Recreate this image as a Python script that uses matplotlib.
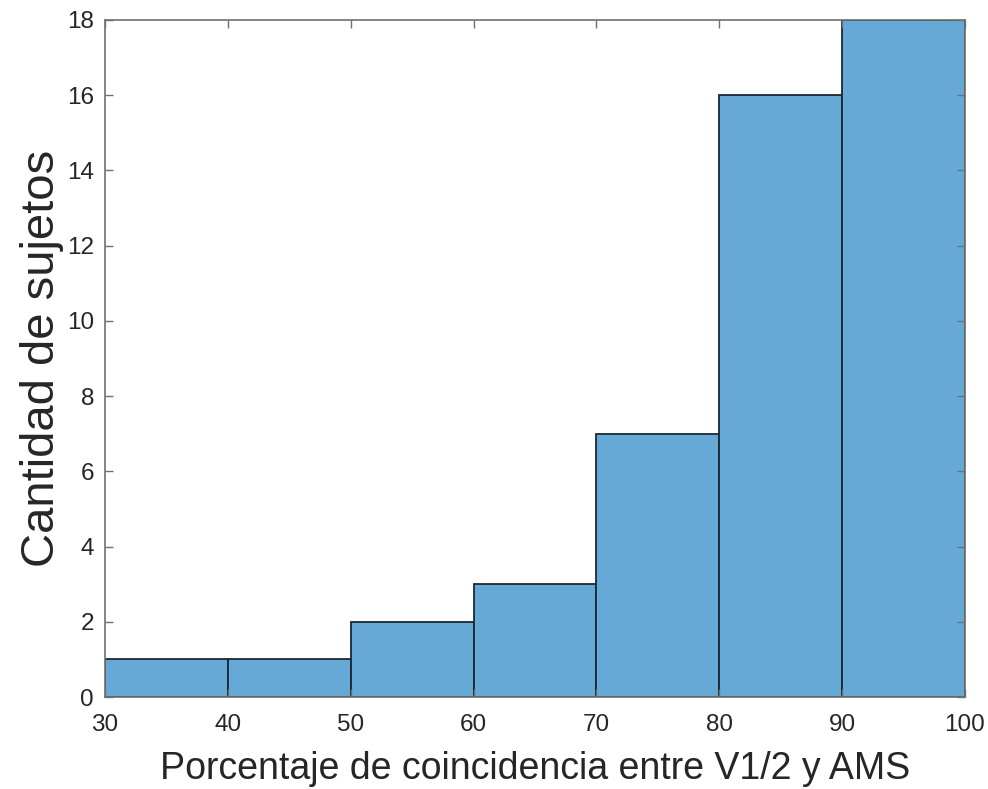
import matplotlib.pyplot as plt
import numpy as np

# Datos del histograma (bordes de clase y conteos)
bin_edges = [30, 40, 50, 60, 70, 80, 90, 100]
counts = [1, 1, 2, 3, 7, 16, 18]
y_ticks = [0, 2, 4, 6, 8, 10, 12, 14, 16, 18]
x_ticks = [30, 40, 50, 60, 70, 80, 90, 100]

plt.rcParams['font.family'] = ['Liberation Sans', 'DejaVu Sans']

fig = plt.figure(figsize=(9.88, 7.89), dpi=100)
ax = fig.add_axes([0.1063, 0.1166, 0.8704, 0.8581])

left = np.array(bin_edges[:-1])
widths = np.diff(bin_edges)
ax.bar(left, counts, width=widths, align='edge',
       color='#66a9d6', edgecolor='#1b2733', linewidth=1.3)

ax.set_xlim(30, 100)
ax.set_ylim(0, 18)
ax.set_xticks(x_ticks)
ax.set_yticks(y_ticks)

axis_gray = '#707070'
for s in ax.spines.values():
    s.set_color(axis_gray)
    s.set_linewidth(1.2)
ax.tick_params(direction='in', top=True, right=True, length=6, width=1,
               color=axis_gray, labelsize=17.5, labelcolor='#262626')
ax.tick_params(axis='x', pad=12)
ax.tick_params(axis='y', pad=8)

ax.set_xlabel('Porcentaje de coincidencia entre V1/2 y AMS', fontsize=27,
              color='#262626', labelpad=11)
ax.set_ylabel('Cantidad de sujetos', fontsize=34, color='#262626', labelpad=2)

fig.savefig('out.png', dpi=100)
